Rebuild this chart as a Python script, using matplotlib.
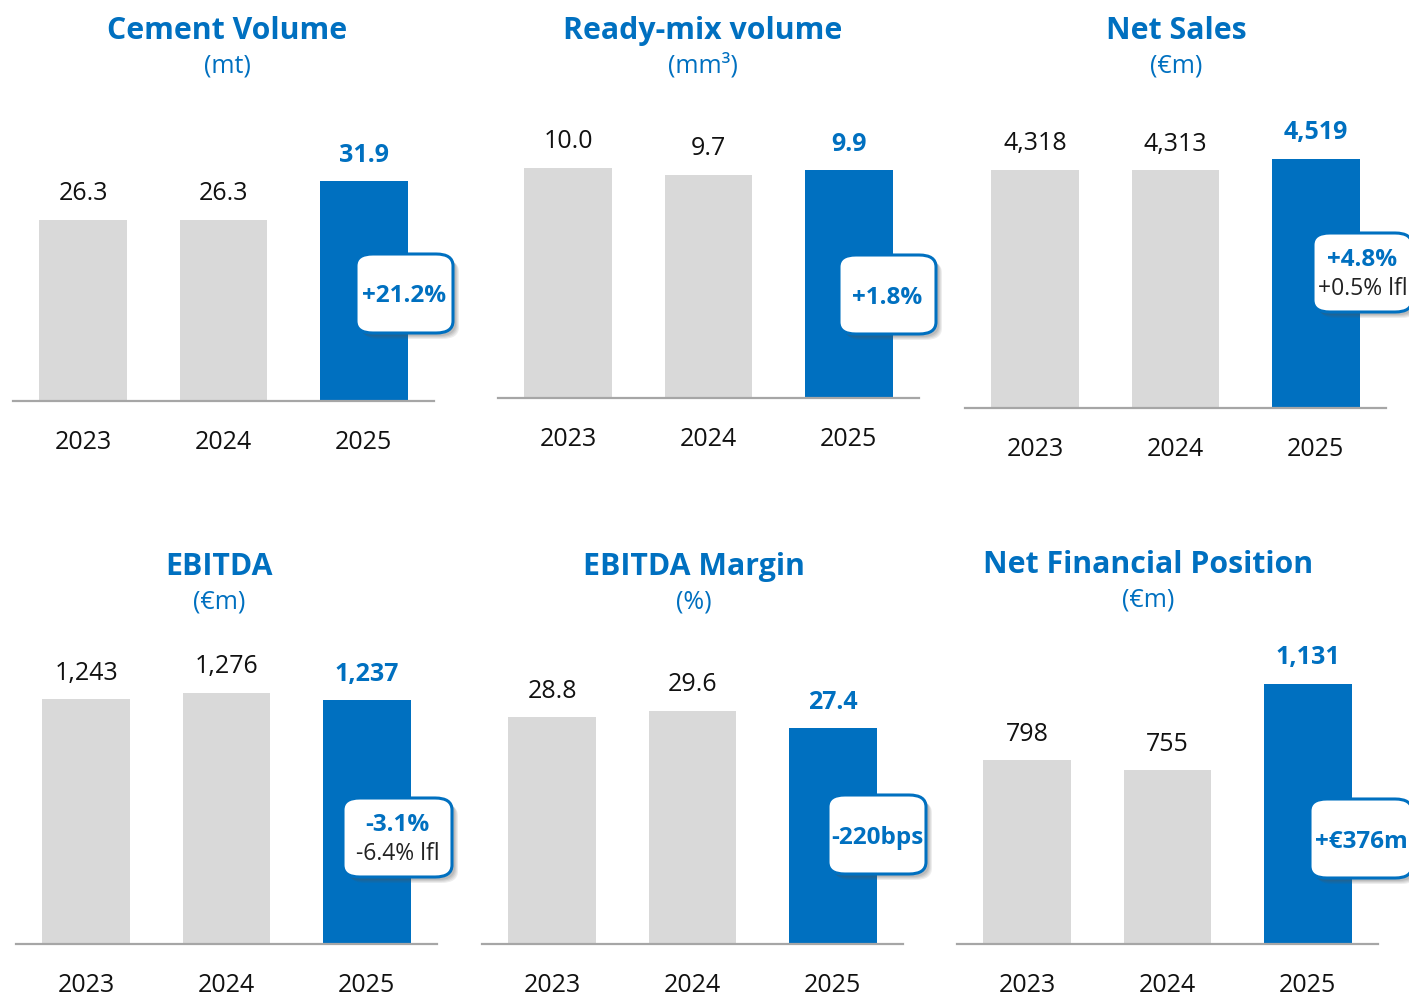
import matplotlib
matplotlib.use("Agg")
import matplotlib.pyplot as plt
from matplotlib.patches import FancyBboxPatch

plt.rcParams['font.family'] = ['Open Sans', 'DejaVu Sans']

# data
years = ['2023', '2024', '2025']
cement = [26.3, 26.3, 31.9]
readymix = [10.0, 9.7, 9.9]
net_sales = [4318, 4313, 4519]
ebitda = [1243, 1276, 1237]
margin = [28.8, 29.6, 27.4]
nfp = [798, 755, 1131]

titles = ['Cement Volume', 'Ready-mix volume', 'Net Sales',
          'EBITDA', 'EBITDA Margin', 'Net Financial Position']
units = ['(mt)', '(mm³)', '(€m)', '(€m)', '(%)', '(€m)']
changes = [('+21.2%', None), ('+1.8%', None), ('+4.8%', '+0.5% lfl'),
           ('-3.1%', '-6.4% lfl'), ('-220bps', None), ('+€376m', None)]

BLUE = '#0070C0'
GREY = '#D9D9D9'
W, H = 1409, 996

fig = plt.figure(figsize=(W / 100, H / 100), dpi=100)


def fx(x):
    return x / W


def fy(y):
    return 1 - y / H


def callout(x0, y0, x1, y1, main, sub):
    # shadow first, a few soft layers
    for i, a in enumerate([0.10, 0.10, 0.12, 0.14]):
        off = 6 - i
        sh = FancyBboxPatch((fx(x0 + off), fy(y1 + off)), fx(x1 - x0), (y1 - y0) / H,
                            boxstyle='round,pad=0,rounding_size=0.012',
                            transform=fig.transFigure, facecolor='#555555',
                            edgecolor='none', alpha=a, zorder=5)
        fig.add_artist(sh)
    box = FancyBboxPatch((fx(x0), fy(y1)), fx(x1 - x0), (y1 - y0) / H,
                         boxstyle='round,pad=0,rounding_size=0.012',
                         transform=fig.transFigure, facecolor='white',
                         edgecolor=BLUE, linewidth=2.2, zorder=6)
    fig.add_artist(box)
    cx = fx((x0 + x1) / 2)
    if sub is None:
        fig.text(cx, fy((y0 + y1) / 2 + 3), main, ha='center', va='center',
                 color=BLUE, fontsize=17.5, fontweight='bold', zorder=7)
    else:
        fig.text(cx, fy(y0 + 27), main, ha='center', va='center',
                 color=BLUE, fontsize=17.5, fontweight='bold', zorder=7)
        fig.text(cx, fy(y0 + 56), sub, ha='center', va='center',
                 color='#222222', fontsize=16.5, zorder=7)


# panel geometry in pixels: axis left, baseline, px per unit, title centre x, title y
panels = [
    (cement, 13, 401, 6.89, 227, 28, '{:.1f}'),
    (readymix, 498, 398, 23.0, 703, 28, '{:.1f}'),
    (net_sales, 965, 408, 0.0551, 1176, 28, '{:,}'),
    (ebitda, 16, 944, 0.197, 219, 564, '{:,}'),
    (margin, 482, 944, 7.87, 694, 564, '{:.1f}'),
    (nfp, 957, 944, 0.23, 1148, 562, '{:,}'),
]
boxes = [(356, 254, 453, 333), (839, 255, 936, 334), (1313, 233, 1412, 312),
         (343, 798, 452, 877), (828, 795, 926, 874), (1310, 799, 1412, 878)]

for k, (vals, left, base, scale, tx, ty, fmt) in enumerate(panels):
    hpx = 320
    ax = fig.add_axes([fx(left), fy(base), 421 / W, hpx / H])
    x = range(len(vals))
    colors = [GREY, GREY, BLUE]
    ax.bar(x, vals, width=0.626, color=colors, zorder=2)
    ax.set_xlim(-0.5, 2.5)
    ax.set_ylim(0, hpx / scale)
    for s in ['top', 'left', 'right']:
        ax.spines[s].set_visible(False)
    ax.spines['bottom'].set_color('#A6A6A6')
    ax.spines['bottom'].set_linewidth(1.6)
    ax.set_yticks([])
    ax.set_xticks(list(x))
    ax.set_xticklabels(years, fontsize=18, color='#111111')
    ax.tick_params(axis='x', length=0, pad=21)
    ax.patch.set_alpha(0)
    for i, v in enumerate(vals):
        last = i == len(vals) - 1
        ax.annotate(fmt.format(v), (i, v), xytext=(0, 18.8), textcoords='offset points',
                    ha='center', va='center', fontsize=18,
                    fontweight='bold' if last else 'normal',
                    color=BLUE if last else '#111111')
    fig.text(fx(tx), fy(ty + 3), titles[k], ha='center', va='center',
             color=BLUE, fontsize=21.8, fontweight='bold')
    fig.text(fx(tx), fy(ty + 38), units[k], ha='center', va='center',
             color=BLUE, fontsize=18)
    callout(*boxes[k], *changes[k])

fig.savefig('out.png', dpi=100)
